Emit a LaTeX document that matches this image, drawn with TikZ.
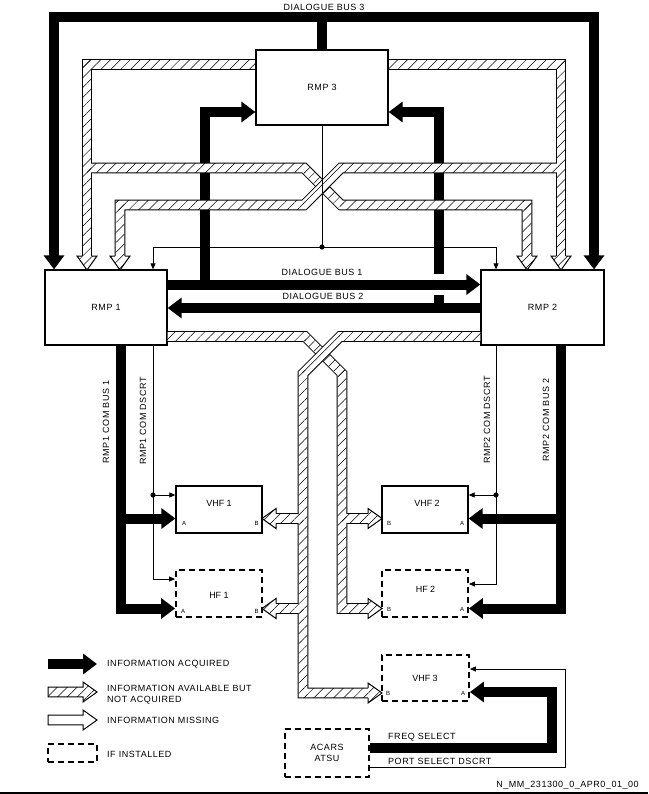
\documentclass[tikz,border=0pt]{standalone}
\usepackage{fontspec}
\setmainfont{Liberation Sans}[LetterSpace=6]
\newfontfamily\plainsf{Liberation Sans}
\usetikzlibrary{arrows.meta,patterns.meta}
\tikzset{
 BT/.tip={Triangle[width=20pt 0 0,length=14pt 0 0]},
 ST/.tip={Triangle[width=5pt 0 0,length=6pt 0 0]},
 bus/.style={line width=10pt,line join=miter},
 sig/.style={line width=0.8pt},
 bx/.style={draw,line width=1.3pt,inner sep=0pt},
 dbx/.style={draw,line width=1.8pt,dash pattern=on 6pt off 4pt,inner sep=0pt},
 bandout/.style={line width=10.6pt,line join=miter},
 bandin/.style={white,line width=8.6pt,line join=miter},
 hatch/.style={pattern={Lines[angle=45,distance=7pt,line width=0.5pt]}},
 lbl/.style={font=\fontsize{9}{11}\selectfont,inner sep=0pt},
 nm/.style={font=\plainsf\fontsize{9}{11}\selectfont,inner sep=0pt},
 port/.style={font=\plainsf\fontsize{6}{7}\selectfont,inner sep=0pt},
 hline/.style={line width=1pt,line join=miter},
}
\newcommand\ArrDown[2]{%
 \fill[white] (#1-10,#2) -- (#1+10,#2) -- (#1,#2+14) -- cycle;
 \fill[hatch] (#1-10,#2) -- (#1+10,#2) -- (#1,#2+14) -- cycle;
 \draw[hline] (#1-4.8,#2) -- (#1-10,#2) -- (#1,#2+14) -- (#1+10,#2) -- (#1+4.8,#2);}
\newcommand\ArrRight[2]{%
 \fill[white] (#1,#2-10) -- (#1,#2+10) -- (#1+14,#2) -- cycle;
 \fill[hatch] (#1,#2-10) -- (#1,#2+10) -- (#1+14,#2) -- cycle;
 \draw[hline] (#1,#2-4.8) -- (#1,#2-10) -- (#1+14,#2) -- (#1,#2+10) -- (#1,#2+4.8);}
\newcommand\ArrLeft[2]{%
 \fill[white] (#1,#2-10) -- (#1,#2+10) -- (#1-14,#2) -- cycle;
 \fill[hatch] (#1,#2-10) -- (#1,#2+10) -- (#1-14,#2) -- cycle;
 \draw[hline] (#1,#2-4.8) -- (#1,#2-10) -- (#1-14,#2) -- (#1,#2+10) -- (#1,#2+4.8);}
\begin{document}
\begin{tikzpicture}[x=1pt,y=-1pt]
\useasboundingbox (0,0) rectangle (648,794);
% ---------- boxes
\node[bx,lbl,minimum width=132pt,minimum height=75pt] (rmp3) at (322,87.5) {RMP 3};
\node[bx,lbl,minimum width=122pt,minimum height=75pt] (rmp1) at (106,307.5) {RMP 1};
\node[bx,lbl,minimum width=123pt,minimum height=75pt] (rmp2) at (542.5,307.5) {RMP 2};
\node[bx,minimum width=86pt,minimum height=47pt] (vhf1) at (219,509.5) {};
\node[dbx,minimum width=86pt,minimum height=47pt] (hf1) at (219,593.5) {};
\node[bx,minimum width=86pt,minimum height=47pt] (vhf2) at (425,509.5) {};
\node[dbx,minimum width=86pt,minimum height=47pt] (hf2) at (425,593.5) {};
\node[dbx,minimum width=87pt,minimum height=46pt] (vhf3) at (425.5,678) {};
\node[dbx,lbl,align=center,minimum width=84pt,minimum height=48pt] (acars) at (327,753) {ACARS\\ATSU};
% box texts
\node[nm] (t1) at (219,503.5) {VHF 1};
\node[nm] (t2) at (219,595) {HF 1};
\node[nm] (t3) at (427,503) {VHF 2};
\node[nm] (t4) at (425.5,589) {HF 2};
\node[nm] (t5) at (425,678.5) {VHF 3};
\node[port] (p1) at (184,523.5) {A};
\node[port] (p2) at (256.5,523.5) {B};
\node[port] (p3) at (183,611) {A};
\node[port] (p4) at (256.5,611) {B};
\node[port] (p5) at (389,523.5) {B};
\node[port] (p6) at (462,523.5) {A};
\node[port] (p7) at (389,609.5) {B};
\node[port] (p8) at (462,609.5) {A};
\node[port] (p9) at (388,693) {B};
\node[port] (p10) at (463,693) {A};
% ---------- black buses (upper)
\draw[bus,BT-BT] (54,0 |- rmp1.north) -- (54,17) -- (594,17) -- (594,0 |- rmp2.north);
\draw[bus] (rmp3.north) -- (322,17);
\draw[bus,-BT] (439,308) -- (439,112) -- (rmp3.east |- 0,112);
\fill[white] (432,274) rectangle (446,294.5);
\draw[bus,-BT] (rmp1.east |- 0,284.5) -- (rmp2.west |- 0,284.5);
\draw[bus,-BT] (rmp2.west |- 0,308) -- (rmp1.east |- 0,308);
\draw[bus,-BT] (205,284.5) -- (205,112) -- (rmp3.west |- 0,112);
% ---------- hatched bands (upper, layer 1)
\draw[bandout] (rmp3.west |- 0,64.5) -- (87,64.5) -- (87,256);
\draw[bandout] (rmp3.east |- 0,64.5) -- (561,64.5) -- (561,256);
\draw[bandout] (87,168) -- (304,168) -- (341,205) -- (527,205) -- (527,256);
\draw[bandin] (rmp3.west |- 0,64.5) -- (87,64.5) -- (87,256);
\draw[bandin] (rmp3.east |- 0,64.5) -- (561,64.5) -- (561,256);
\draw[bandin] (87,168) -- (304,168) -- (341,205) -- (527,205) -- (527,256);
\fill[hatch] (82.7,60.2) rectangle (256,68.8);
\fill[hatch] (82.7,60.2) rectangle (91.3,256);
\fill[hatch] (388,60.2) rectangle (565.3,68.8);
\fill[hatch] (556.7,60.2) rectangle (565.3,256);
\fill[hatch] (87,163.7) rectangle (305,172.3);
\fill[hatch] (307,165) -- (344,202) -- (338,208) -- (301,171) -- cycle;
\fill[hatch] (340,200.7) rectangle (531.3,209.3);
\fill[hatch] (522.7,200.7) rectangle (531.3,256);
% layer 2
\draw[bandout] (556.7,168) -- (341,168) -- (304,205) -- (120,205) -- (120,256);
\draw[bandin] (561,168) -- (341,168) -- (304,205) -- (120,205) -- (120,256);
\fill[hatch] (340,163.7) rectangle (561,172.3);
\fill[hatch] (344,171) -- (307,208) -- (301,202) -- (338,165) -- cycle;
\fill[hatch] (115.7,200.7) rectangle (305,209.3);
\fill[hatch] (115.7,200.7) rectangle (124.3,256);
\ArrDown{87}{256}
\ArrDown{120}{256}
\ArrDown{527}{256}
\ArrDown{561}{256}
% ---------- thin signal lines (upper)
\draw[sig] (rmp3.south) -- (322,247);
\draw[sig,ST-ST] (153,0 |- rmp1.north) -- (153,247) -- (496,247) -- (496,0 |- rmp2.north);
\fill (322,247) circle[radius=2.6pt];
% ---------- COM buses
\draw[sig,-ST] (rmp1.south -| 153,0) -- (153,579) -- (hf1.west |- 0,579);
\draw[sig,-ST] (153,495) -- (vhf1.west |- 0,495);
\fill (153,495) circle[radius=2.6pt];
\draw[sig,-ST] (rmp2.south -| 496,0) -- (496,584) -- (hf2.east |- 0,584);
\draw[sig,-ST] (496,495) -- (vhf2.east |- 0,495);
\fill (496,495) circle[radius=2.6pt];
\draw[bus,-BT] (rmp1.south -| 120.5,0) -- (120.5,608.5) -- (hf1.west |- 0,608.5);
\draw[bus,-BT] (120.5,518.5) -- (vhf1.west |- 0,518.5);
\draw[bus,-BT] (rmp2.south -| 561,0) -- (561,608.5) -- (hf2.east |- 0,608.5);
\draw[bus,-BT] (561,518.5) -- (vhf2.east |- 0,518.5);
% ---------- lower hatched bands, layer C
\draw[bandout] (rmp1.east |- 0,336.5) -- (305,336.5) -- (342,373.5) -- (342,608.5) -- (368,608.5);
\draw[bandout] (342,518.5) -- (368,518.5);
\draw[bandin] (rmp1.east |- 0,336.5) -- (305,336.5) -- (342,373.5) -- (342,608.5) -- (368,608.5);
\draw[bandin] (342,518.5) -- (368,518.5);
\fill[hatch] (167,332.2) rectangle (306,340.8);
\fill[hatch] (308,333.5) -- (345,370.5) -- (339,376.5) -- (302,339.5) -- cycle;
\fill[hatch] (337.7,370) rectangle (346.3,612.8);
\fill[hatch] (342,604.2) rectangle (368,612.8);
\fill[hatch] (342,514.2) rectangle (368,522.8);
% layer D
\draw[bandout] (rmp2.west |- 0,336.5) -- (340,336.5) -- (303,373.5) -- (303,693) -- (368,693);
\draw[bandout] (303,518.5) -- (276,518.5);
\draw[bandout] (303,608.5) -- (276,608.5);
\draw[bandin] (rmp2.west |- 0,336.5) -- (340,336.5) -- (303,373.5) -- (303,693) -- (368,693);
\draw[bandin] (303,518.5) -- (276,518.5);
\draw[bandin] (303,608.5) -- (276,608.5);
\fill[hatch] (339,332.2) rectangle (481,340.8);
\fill[hatch] (343,339.5) -- (306,376.5) -- (300,370.5) -- (337,333.5) -- cycle;
\fill[hatch] (298.7,370) rectangle (307.3,697.3);
\fill[hatch] (303,688.7) rectangle (368,697.3);
\fill[hatch] (276,514.2) rectangle (303,522.8);
\fill[hatch] (276,604.2) rectangle (303,612.8);
\ArrRight{368}{518.5}
\ArrRight{368}{608.5}
\ArrRight{368}{693}
\ArrLeft{276}{518.5}
\ArrLeft{276}{608.5}
% ---------- VHF3 / ACARS
\draw[bus,-BT] (acars.east |- 0,748) -- (552,748) -- (552,692) -- (vhf3.east |- 0,692);
\draw[sig,-ST] (acars.east |- 0,767) -- (565,767) -- (565,669) -- (vhf3.east |- 0,669);
\node[lbl,anchor=west] (fs) at (388,737) {FREQ SELECT};
\node[lbl,anchor=west] (ps) at (388,761) {PORT SELECT DSCRT};
% ---------- bus labels
\node[lbl] (l3) at (324,7) {DIALOGUE BUS 3};
\node[lbl] (l1) at (322,272) {DIALOGUE BUS 1};
\node[lbl] (l2) at (323,296) {DIALOGUE BUS 2};
\node[lbl,rotate=90] (v1) at (106,422) {RMP1 COM BUS 1};
\node[lbl,rotate=90] (v2) at (143,421) {RMP1 COM DSCRT};
\node[lbl,rotate=90] (v3) at (487,420) {RMP2 COM DSCRT};
\node[lbl,rotate=90] (v4) at (546,420) {RMP2 COM BUS 2};
% ---------- legend
\draw[bus,-BT] (48,664) -- (97,664);
\node[lbl,anchor=west] (g1) at (107,664) {INFORMATION ACQUIRED};
\fill[white] (48,687.2) -- (83,687.2) -- (83,682) -- (97,692) -- (83,702) -- (83,696.8) -- (48,696.8) -- cycle;
\fill[hatch] (48,687.2) -- (83,687.2) -- (83,682) -- (97,692) -- (83,702) -- (83,696.8) -- (48,696.8) -- cycle;
\draw[hline] (48,687.2) -- (83,687.2) -- (83,682) -- (97,692) -- (83,702) -- (83,696.8) -- (48,696.8) -- cycle;
\node[lbl,anchor=west,align=left] (g2) at (107,695) {INFORMATION AVAILABLE BUT\\NOT ACQUIRED};
\draw[hline,fill=white] (48,715.2) -- (83,715.2) -- (83,710) -- (97,720) -- (83,730) -- (83,724.8) -- (48,724.8) -- cycle;
\node[lbl,anchor=west] (g3) at (107,720) {INFORMATION MISSING};
\node[dbx,minimum width=49pt,minimum height=18pt] (legbox) at (72.5,753) {};
\node[lbl,anchor=west] (g4) at (107,754) {IF INSTALLED};
% ---------- reference code and rule
\node[lbl] (code) at (567.5,785) {N\_MM\_231300\_0\_APR0\_01\_00};
\draw[line width=1.5pt] (0,793.2) -- (648,793.2);
\end{tikzpicture}
\end{document}
